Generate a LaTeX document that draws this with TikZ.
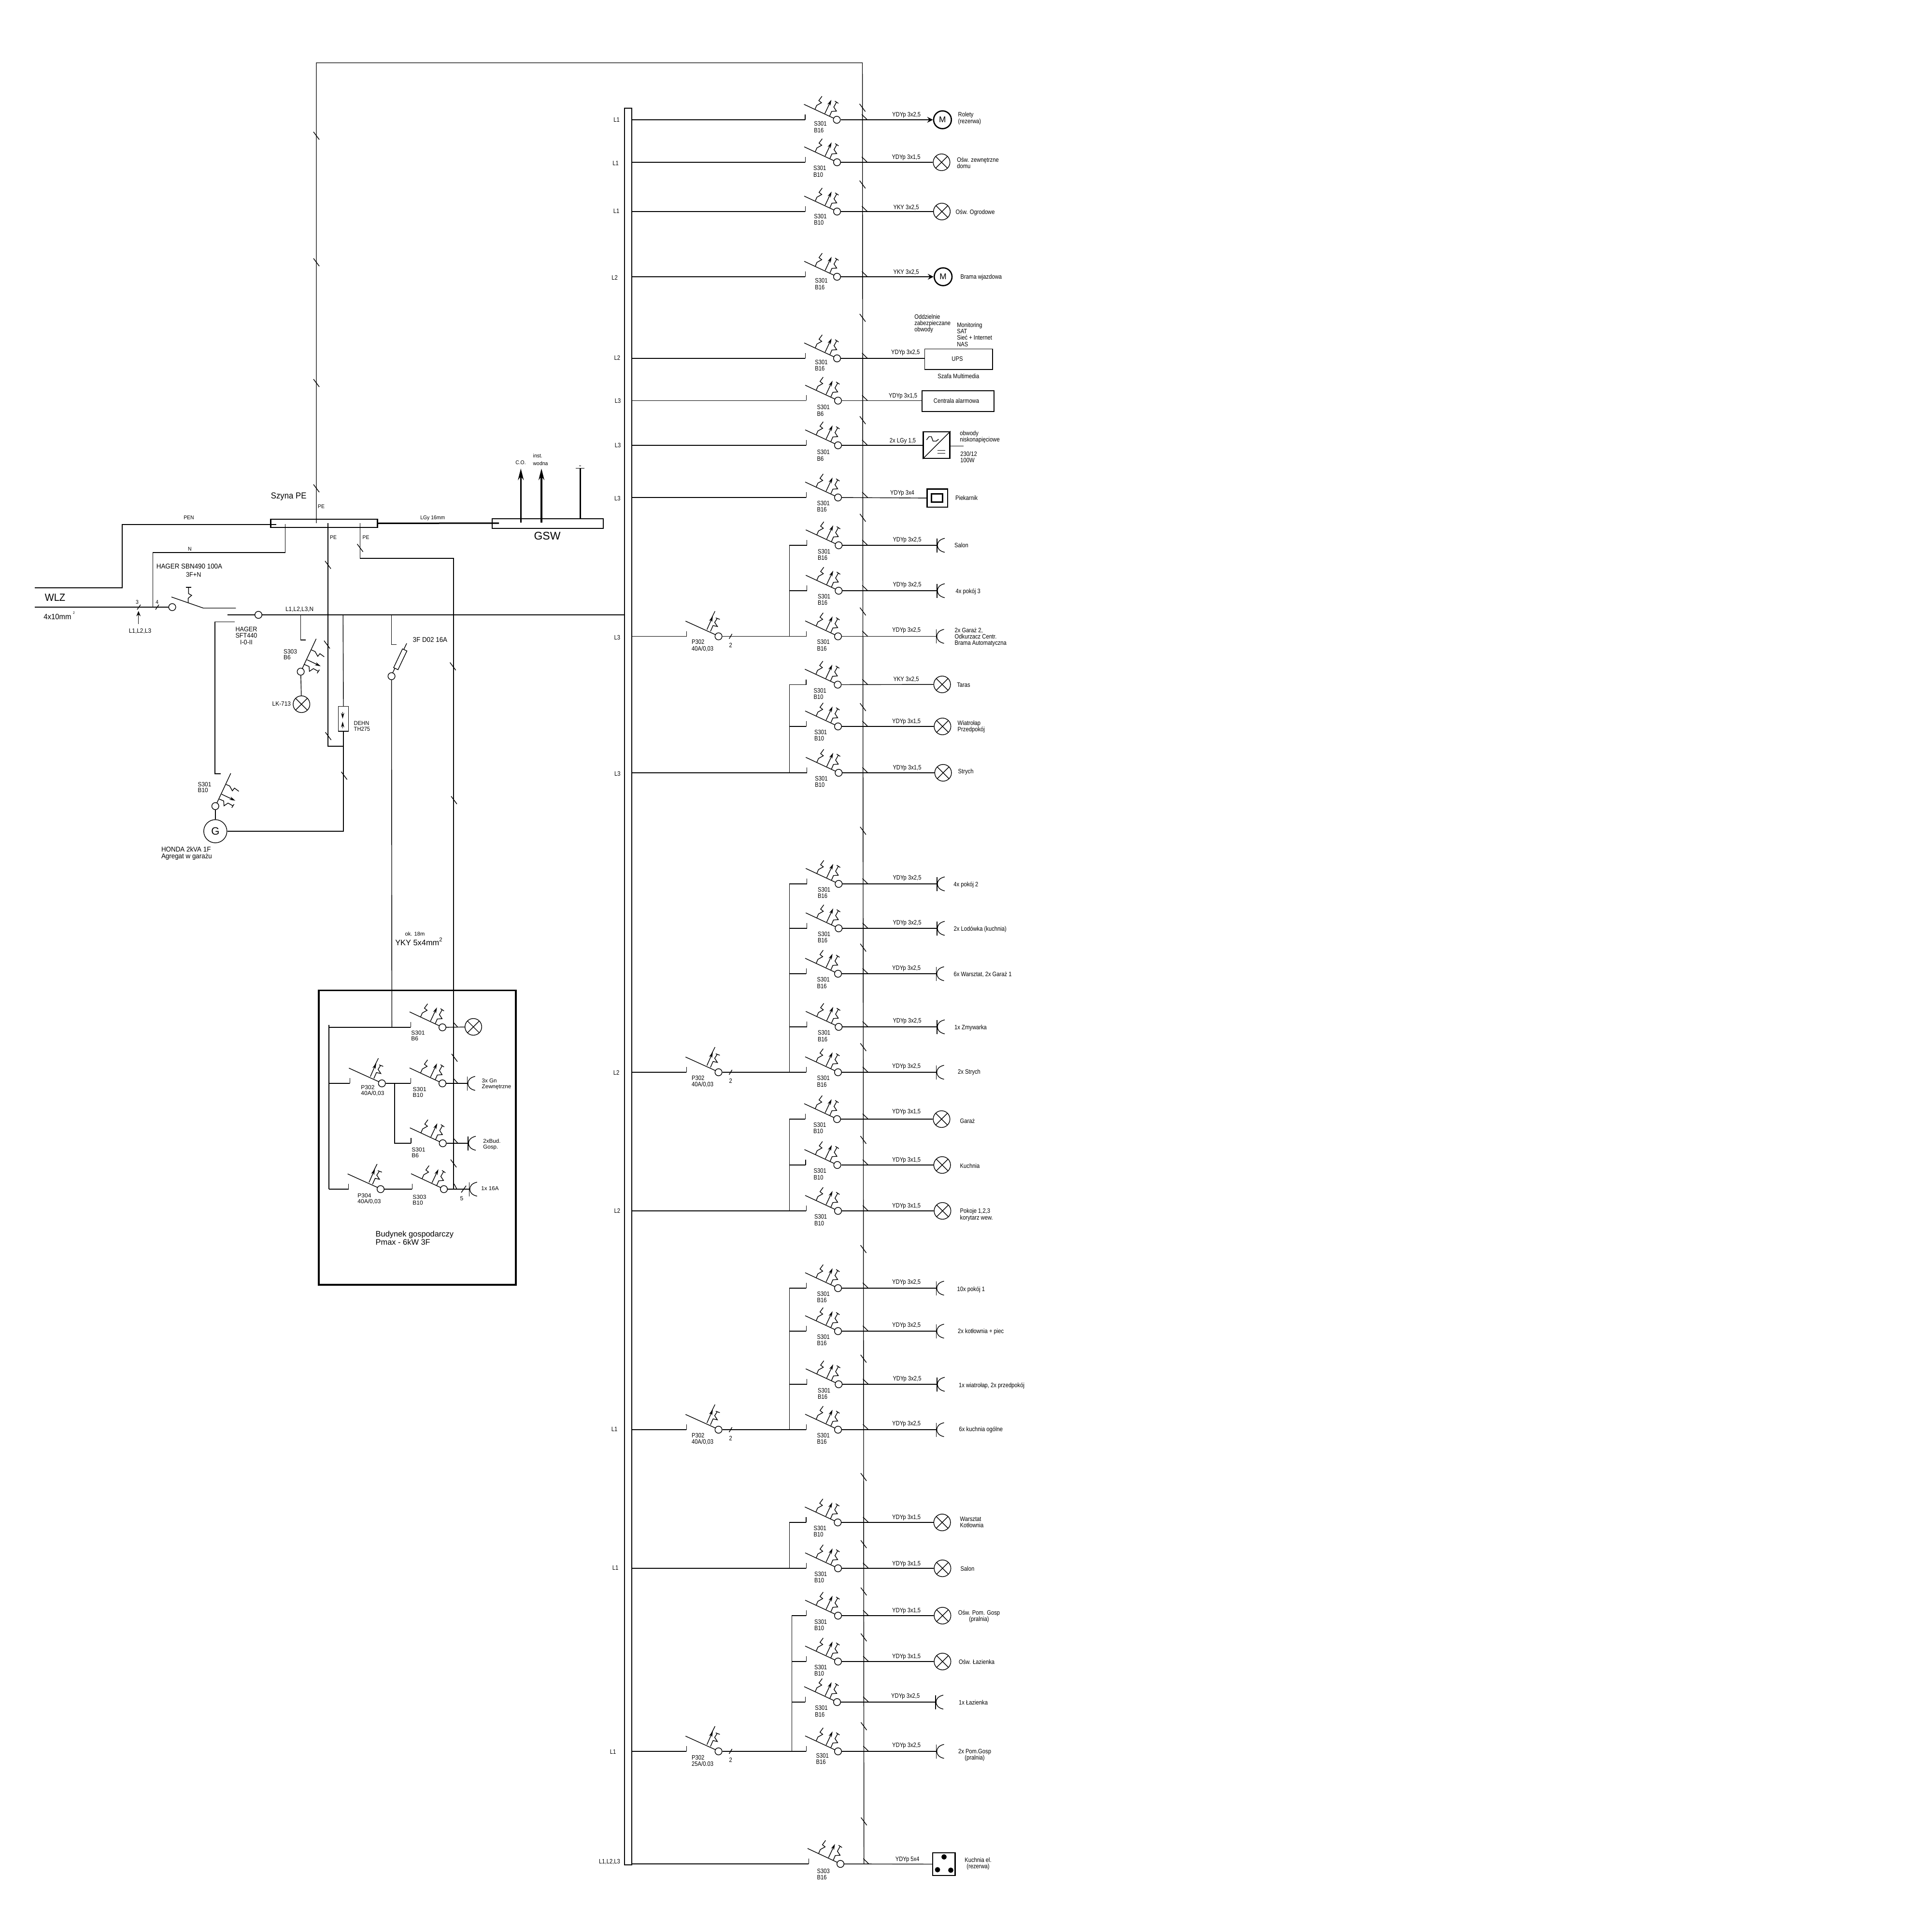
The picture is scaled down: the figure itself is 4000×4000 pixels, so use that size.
\documentclass[tikz,border=0pt]{standalone}
\usepackage{fontspec}
\setmainfont[FakeStretch=0.85]{Liberation Sans}
\newfontfamily\lewyfont[FakeStretch=0.93]{Liberation Sans}
\newfontfamily\szerokifont{Liberation Sans}
\usetikzlibrary{arrows.meta}
\newcommand{\rozm}[1]{\fontsize{#1}{#1}\selectfont}
\tikzset{
    opis/.style={inner sep=0pt,anchor=west,align=left,font=\rozm{3.3}},
    kabel/.style={inner sep=0pt,font=\rozm{3.3}},
    lewy/.style={inner sep=0pt,align=left,font=\lewyfont\rozm{3.4}},
    maly/.style={inner sep=0pt,align=left,font=\lewyfont\rozm{2.8}},
    bud/.style={inner sep=0pt,anchor=west,align=left,font=\szerokifont\rozm{2.9}},
    styk/.style={circle,draw,fill=white,inner sep=0pt,minimum size=3.65pt},
    lampa/.style={circle,draw,inner sep=0pt,minimum size=8.65pt,path picture={
        \draw (path picture bounding box.north west) -- (path picture bounding box.south east);
        \draw (path picture bounding box.north east) -- (path picture bounding box.south west);}},
    silnik/.style={circle,draw,line width=0.65pt,inner sep=0pt,minimum size=9.2pt,font=\szerokifont\rozm{4.3}},
    grot/.style={-{Stealth[length=3pt,width=1.7pt]}},
    duzygrot/.style={line width=0.85pt,-{Stealth[length=6pt,width=3pt]}},
    pics/wyl/.style={code={
        \draw (-68,-32) -- (-6,-3);
        \draw (-45,-22) -- (-41.7,-29.7) -- (-31.7,-35.3) -- (-37.3,-39.7) -- (-30.7,-48.7);
        \draw[grot] (-24.7,-13) -- (-11.3,-41.3);
        \draw (-15,-7.3) -- (-10.7,-17.3) -- (-0.7,-18) -- (-6.3,-26.3) -- (-0.7,-36.3);
        \draw (-4,-38.7) -- (3.3,-34);
    }},
    pics/roznic/.style={code={
        \draw (-68.3,-31.6) -- (-6.7,-3.6);
        \draw[grot] (-24,-14) -- (-11.7,-41.8);
        \draw (-7.3,-52) -- (-16.7,-33.2);
        \draw (-16.7,-10.2) -- (-11.3,-22.4) -- (-2.3,-20.4) -- (-8,-29) -- (-3,-36.7);
        \draw (-5.7,-38.3) -- (2.7,-35.2);
    }},
    pics/kreska/.style={code={\draw (-6,-8) -- (6,8);}},
    pics/gniazdo/.style={code={
        \draw (0,-14.5) -- (0,14.5);
        \draw (16,-14.5) .. controls (5,-12) and (1,-6) .. (1,0) .. controls (1,6) and (5,12) .. (16,14.5);
    }},
}
% wylacznik: nr, y, x styku, x opisu, dy opisu, opis
\newcommand{\wyl}[6]{
    \coordinate (k#1) at (#3-65.6,#2);
    \draw (k#1) -- ++(0,-11);
    \node[styk] (c#1) at (#3,#2) {};
    \pic at (c#1) {wyl};
    \node[opis] (o#1) at (#4,#2+#5) {#6};
}
% obwod w rozdzielnicy: jak wyzej + kabel, x kabla, dy kabla
\newcommand{\obwod}[9]{
    \wyl{#1}{#2}{#3}{#4}{#5}{#6}
    \pgfmathsetmacro\vx{1785.5+(#2-130)*0.00086}
    \draw (\vx-1.3,#2-11) -- (\vx+10,#2);
    \node[kabel] (p#1) at (#8,#2+#9) {#7};
}
\newcommand{\roznic}[6]{
    \coordinate (k#1) at (#3-66.3,#2);
    \draw (k#1) -- ++(0,-11);
    \node[styk] (c#1) at (#3,#2) {};
    \pic at (c#1) {roznic};
    \node[opis] (o#1) at (#4,#2+#5) {#6};
}
\newcommand{\lamp}[3]{
    \node[lampa] (z#1) at (#2,#3) {};
    \draw (c#1) -- (z#1);
}
\newcommand{\gnia}[3]{
    \coordinate (z#1) at (#2,#3);
    \pic at (z#1) {gniazdo};
    \draw (c#1) -- (z#1);
}
\newcommand{\zbus}[1]{\draw (k#1 -| bus.east) -- (k#1);}
\begin{document}
\begin{tikzpicture}[x=0.25pt,y=-0.25pt,line width=0.35pt]
    \useasboundingbox (0,0) rectangle (4000,4000);
    % szyna rozdzielcza
    \node[draw,line width=0.5pt,inner sep=0pt,minimum width=3.97pt,minimum height=909.25pt] (bus) at (1300.5,2042.5) {};
    % przewod PE
    \coordinate (pea) at (655,1083);
    \coordinate (peb) at (655,130);
    \coordinate (pec) at (1785.5,130);
    \coordinate (ped) at (1788.7,3859);
    \draw (pea) -- (peb) -- (pec) -- (ped);
    \foreach \y in {223,382,658,870,1072,1266,1464,1720,1962,2168,2360,2586,2813,3058,3197,3295,3390,3574,3771}{
        \pgfmathsetmacro\vx{1785.5+(\y-130)*0.00086}
        \pic at (\vx,\y) {kreska};
    }
    \foreach \y in {281,543,793,1011}{\pic at (655,\y) {kreska};}
    % obwody
    \obwod{1}{248}{1732.5}{1684.7}{15}{S301\\B16}{YDYp 3x2,5}{1876.7}{-10}
    \obwod{2}{336}{1733}{1683.4}{19}{S301\\B10}{YDYp 3x1,5}{1876}{-10}
    \obwod{3}{438}{1733}{1684.7}{16.5}{S301\\B10}{YKY 3x2,5}{1876}{-8}
    \obwod{4}{573}{1733}{1686.6}{15}{S301\\B16}{YKY 3x2,5}{1876}{-9}
    \obwod{5}{742}{1733}{1686.6}{14.5}{S301\\B16}{YDYp 3x2,5}{1874.7}{-11.5}
    \obwod{6}{829.5}{1735}{1691}{20.5}{S301\\B6}{YDYp 3x1,5}{1869.6}{-9}
    \obwod{7}{922}{1735}{1691}{21}{S301\\B6}{2x LGy 1,5}{1869}{-9}
    \obwod{8}{1030}{1735}{1691}{18.7}{S301\\B16}{YDYp 3x4}{1868}{-9}
    \obwod{9}{1129}{1736.3}{1692.3}{19.3}{S301\\B16}{YDYp 3x2,5}{1878}{-11}
    \obwod{10}{1223}{1736.3}{1692.3}{18.5}{S301\\B16}{YDYp 3x2,5}{1878}{-12}
    \obwod{11}{1317.5}{1735}{1691}{18.5}{S301\\B16}{YDYp 3x2,5}{1876.7}{-12}
    \obwod{12}{1417.5}{1734.4}{1684}{19.3}{S301\\B10}{YKY 3x2,5}{1876}{-11}
    \obwod{13}{1504}{1735}{1685.3}{18.5}{S301\\B10}{YDYp 3x1,5}{1876.7}{-10}
    \obwod{14}{1600}{1736.3}{1686.6}{18.5}{S301\\B10}{YDYp 3x1,5}{1878}{-10}
    \obwod{15}{1830}{1736.3}{1692.3}{18.5}{S301\\B16}{YDYp 3x2,5}{1878}{-12}
    \obwod{16}{1922}{1736.3}{1692.3}{18.5}{S301\\B16}{YDYp 3x2,5}{1878}{-11}
    \obwod{17}{2016}{1735}{1691}{19}{S301\\B16}{YDYp 3x2,5}{1876.7}{-11}
    \obwod{18}{2126}{1736.3}{1692.3}{19}{S301\\B16}{YDYp 3x2,5}{1878}{-11.5}
    \obwod{19}{2220}{1735}{1691}{19}{S301\\B16}{YDYp 3x2,5}{1876.7}{-11.5}
    \obwod{20}{2317}{1733}{1683.4}{18.5}{S301\\B10}{YDYp 3x1,5}{1876.7}{-15}
    \obwod{21}{2412}{1733.5}{1684}{19}{S301\\B10}{YDYp 3x1,5}{1876.7}{-9.5}
    \obwod{22}{2507}{1735}{1685.3}{19}{S301\\B10}{YDYp 3x1,5}{1876.7}{-9.8}
    \obwod{23}{2667}{1735}{1691}{18.5}{S301\\B16}{YDYp 3x2,5}{1876.7}{-11.6}
    \obwod{24}{2756}{1735}{1691}{18.5}{S301\\B16}{YDYp 3x2,5}{1876.7}{-11.7}
    \obwod{25}{2866}{1736.3}{1692.3}{19.3}{S301\\B16}{YDYp 3x2,5}{1878}{-11.2}
    \obwod{26}{2960}{1735}{1691}{18.5}{S301\\B16}{YDYp 3x2,5}{1876.7}{-11.7}
    \obwod{27}{3152}{1734.4}{1684}{18.5}{S301\\B10}{YDYp 3x1,5}{1876.7}{-9.7}
    \obwod{28}{3247}{1735}{1685.3}{18.5}{S301\\B10}{YDYp 3x1,5}{1876.7}{-9.2}
    \obwod{29}{3345}{1735}{1685.3}{19.3}{S301\\B10}{YDYp 3x1,5}{1876.7}{-9.7}
    \obwod{30}{3440}{1735}{1685.3}{18.7}{S301\\B10}{YDYp 3x1,5}{1876.7}{-9.6}
    \obwod{31}{3524}{1733}{1686.6}{19}{S301\\B16}{YDYp 3x2,5}{1874.7}{-11.5}
    \obwod{32}{3626}{1735}{1689}{15.3}{S301\\B16}{YDYp 3x2,5}{1876.7}{-11.5}
    \obwod{33}{3859}{1740}{1691}{21.8}{S303\\B16}{YDYp 5x4}{1878.6}{-9.2}
    % zasilanie wprost z szyny
    \foreach \n in {1,...,8,14,22,28,33}{\zbus{\n}}
    % roznicowki
    \roznic{a}{1317.5}{1487.6}{1431.5}{19.3}{P302\\40A/0,03}
    \roznic{b}{2220}{1487.6}{1431.5}{19.3}{P302\\40A/0,03}
    \roznic{c}{2960}{1487.6}{1431.5}{19.3}{P302\\40A/0,03}
    \roznic{d}{3626}{1487.6}{1431.5}{19.3}{P302\\25A/0.03}
    \foreach \n/\m in {a/11,b/19,c/26,d/32}{
        \zbus{\n}
        \draw (c\n) -- (k\m);
        \draw (c\n) ++(22,5) -- ++(6,-10);
        \node[kabel] (d\n) at ([xshift=6.25pt,yshift=-4.5pt]c\n) {2};
    }
    % grupy
    \coordinate (ga) at (1634.3,0);
    \coordinate (gb) at (1639.4,0);
    \draw (k9 -| ga) -- (k11 -| ga);
    \draw (k9 -| ga) -- (k9);
    \draw (k10 -| ga) -- (k10);
    \draw (k12 -| ga) -- (k14 -| ga);
    \draw (k12 -| ga) -- (k12);
    \draw (k13 -| ga) -- (k13);
    \draw (k15 -| ga) -- (k19 -| ga);
    \foreach \n in {15,...,18}{\draw (k\n -| ga) -- (k\n);}
    \draw (k20 -| ga) -- (k22 -| ga);
    \draw (k20 -| ga) -- (k20);
    \draw (k21 -| ga) -- (k21);
    \draw (k23 -| ga) -- (k26 -| ga);
    \foreach \n in {23,24,25}{\draw (k\n -| ga) -- (k\n);}
    \draw (k27 -| ga) -- (k28 -| ga);
    \draw (k27 -| ga) -- (k27);
    \draw (k29 -| gb) -- (k32 -| gb);
    \foreach \n in {29,30,31}{\draw (k\n -| gb) -- (k\n);}
    % oznaczenia faz
    \foreach \t/\x/\y in {L1/1276.5/248,L1/1274.6/337.6,L1/1276/437,L2/1272.7/575,L2/1277.8/741,L3/1279/829.5,L3/1279/922,L3/1278.4/1032,L3/1277.8/1320,L3/1278.4/1602,L2/1276/2221,L2/1277.8/2507,L1/1272/2959,L1/1274/3246,L1/1269/3627}{
        \node[kabel] (f\x) at (\x,\y) {\t};
    }
    \node[kabel] (fall) at (1262,3855) {L1,L2,L3};
    % odbiorniki
    \node[silnik] (z1) at (1951.3,248) {M};
    \draw[-stealth] (c1) -- (z1);
    \node[opis] (n1) at (1983,245) {Rolety\\(rezerwa)};
    \lamp{2}{1949.4}{336}
    \node[opis] (n2) at (1980.6,337) {Ośw. zewnętrzne\\domu};
    \lamp{3}{1950}{438}
    \node[opis] (n3) at (1978,440) {Ośw. Ogrodowe};
    \node[silnik] (z4) at (1952.6,573) {M};
    \draw[-stealth] (c4) -- (z4);
    \node[opis] (n4) at (1988,574) {Brama wjazdowa};
    \node[draw,inner sep=0pt,minimum width=35.2pt,minimum height=10.7pt] (ups) at (1984.7,743.7) {};
    \node[kabel] (upst) at (1982,743) {UPS};
    \draw (c5) -- (ups.west |- c5);
    \node[opis] (n5a) at (1892.6,670) {Oddzielnie\\zabezpieczane\\obwody};
    \node[opis] (n5b) at (1980.6,692.5) {Monitoring\\SAT\\Sieć + Internet\\NAS};
    \node[kabel] (n5c) at (1984.4,778.7) {Szafa Multimedia};
    \node[draw,line width=0.55pt,inner sep=0pt,minimum width=37.1pt,minimum height=10.75pt] (alarm) at (1983.5,830.5) {};
    \node[kabel] (alarmt) at (1980,830) {Centrala alarmowa};
    \draw (c6) -- (alarm.west |- c6);
    \node[draw,line width=0.65pt,inner sep=0pt,minimum width=13.75pt,minimum height=13.75pt] (zas) at (1939.2,921.5) {};
    \draw (c7) -- (zas.west |- c7);
    \draw (zas.south west) -- (zas.north east);
    \draw[line join=round] (1918.3,910.7) -- (1923.3,904) -- (1928.3,904) -- (1931.7,913.3) -- (1938.3,913.3) -- (1943.3,909.3);
    \draw (1940.7,932.7) -- (1956.7,932.7);
    \draw (1940.7,938.3) -- (1956.7,938.3);
    \coordinate (zasw) at (1995,923.7);
    \draw (zas.east |- zasw) -- (zasw);
    \node[opis] (n7a) at (1986.7,904.6) {obwody\\niskonapięciowe};
    \node[opis] (n7b) at (1987.7,946) {230/12\\100W};
    \node[draw,line width=0.65pt,inner sep=0pt,minimum width=10.7pt,minimum height=9.3pt] (piek) at (1940.6,1031.3) {};
    \node[draw,line width=0.65pt,inner sep=0pt,minimum width=5.85pt,minimum height=4.25pt] (piekw) at (1940,1030.8) {};
    \draw (c8) -- (piek);
    \node[opis] (n8) at (1977.3,1030.7) {Piekarnik};
    \gnia{9}{1939.8}{1129}
    \node[opis] (n9) at (1975.5,1129) {Salon};
    \gnia{10}{1939.8}{1223}
    \node[opis] (n10) at (1978,1225) {4x pokój 3};
    \gnia{11}{1938.5}{1317.5}
    \node[opis] (n11) at (1976,1319) {2x Garaż 2,\\Odkurzacz Centr.\\Brama Automatyczna};
    \lamp{12}{1950.6}{1417}
    \node[opis] (n12) at (1980.6,1418) {Taras};
    \lamp{13}{1951.3}{1504}
    \node[opis] (n13) at (1982,1504.5) {Wiatrołap\\Przedpokój};
    \lamp{14}{1952.6}{1600}
    \node[opis] (n14) at (1983,1598.5) {Strych};
    \gnia{15}{1939.8}{1830}
    \node[opis] (n15) at (1973.6,1832) {4x pokój 2};
    \gnia{16}{1939.8}{1922}
    \node[opis] (n16) at (1974,1924) {2x Lodówka (kuchnia)};
    \gnia{17}{1938.5}{2016}
    \node[opis] (n17) at (1974,2018) {6x Warsztat, 2x Garaż 1};
    \gnia{18}{1939.8}{2126}
    \node[opis] (n18) at (1975.5,2128) {1x Zmywarka};
    \gnia{19}{1938.5}{2220}
    \node[opis] (n19) at (1982.5,2219.6) {2x Strych};
    \lamp{20}{1949.4}{2317}
    \node[opis] (n20) at (1987,2320.5) {Garaż};
    \lamp{21}{1950.6}{2412}
    \node[opis] (n21) at (1987,2414) {Kuchnia};
    \lamp{22}{1951.3}{2507}
    \node[opis] (n22) at (1987,2515) {Pokoje 1,2,3\\korytarz wew.};
    \gnia{23}{1938.5}{2667}
    \node[opis] (n23) at (1981,2670) {10x pokój 1};
    \gnia{24}{1938.5}{2756}
    \node[opis] (n24) at (1982.5,2757) {2x kotłownia + piec};
    \gnia{25}{1939.8}{2866}
    \node[opis] (n25) at (1984.4,2869) {1x wiatrołap, 2x przedpokój};
    \gnia{26}{1938.5}{2960}
    \node[opis] (n26) at (1985,2960) {6x kuchnia ogólne};
    \lamp{27}{1950.6}{3152}
    \node[opis] (n27) at (1987,3151.5) {Warsztat\\Kotłownia};
    \lamp{28}{1951.3}{3247}
    \node[opis] (n28) at (1988,3247.5) {Salon};
    \lamp{29}{1951.3}{3345}
    \node[opis,anchor=center,align=center] (n29) at (2027,3346.5) {Ośw. Pom. Gosp\\(pralnia)};
    \lamp{30}{1951.3}{3440}
    \node[opis] (n30) at (1984.4,3441) {Ośw. Łazienka};
    \gnia{31}{1937}{3524}
    \node[opis] (n31) at (1984.4,3525) {1x Łazienka};
    \gnia{32}{1938.5}{3626}
    \node[opis,anchor=center,align=center] (n32) at (2018,3633.5) {2x Pom.Gosp\\(pralnia)};
    \node[draw,line width=0.55pt,inner sep=0pt,minimum width=11.6pt,minimum height=11.75pt] (kuch) at (1954.2,3859.5) {};
    \draw (c33) -- (kuch);
    \foreach \x/\y in {1954.5/3844.5,1941/3871,1968.5/3872}{\fill (\x,\y) circle[radius=5.5];}
    \node[opis,anchor=center,align=center] (n33) at (2025,3858.5) {Kuchnia el.\\(rezerwa)};
    % szyna PE i GSW
    \node[draw,line width=0.7pt,inner sep=0pt,minimum width=55.25pt,minimum height=4.25pt] (pe) at (671.2,1083.5) {};
    \node[lewy,font=\lewyfont\rozm{4.5}] (pet) at (597.7,1028) {Szyna PE};
    \node[maly] (pe1) at (665,1049) {PE};
    \node[maly] (pe2) at (690,1112.5) {PE};
    \node[maly] (pe3) at (757.6,1112.5) {PE};
    \node[draw,line width=0.55pt,inner sep=0pt,minimum width=57.5pt,minimum height=5pt] (gsw) at (1134,1084) {};
    \node[inner sep=0pt,font=\szerokifont\rozm{5.75}] (gswt) at (1133,1110) {GSW};
    \coordinate (lgy) at (1033,1083);
    \draw[line width=0.75pt] (pe.east) -- (lgy);
    \node[maly] (lgyt) at (895.8,1073) {LGy 16mm};
    \coordinate (co1) at (1078.3,1081.7);
    \coordinate (co2) at (1078.3,970);
    \coordinate (wo1) at (1121,1081.7);
    \coordinate (wo2) at (1121,970);
    \coordinate (zi1) at (1201.3,1075);
    \coordinate (zi2) at (1201.3,969.3);
    \draw[duzygrot] (co1) -- (co2);
    \draw[duzygrot] (wo1) -- (wo2);
    \draw[line width=0.85pt] (zi1) -- (zi2);
    \draw (zi2) ++(-9,0) -- ++(18,0);
    \draw (zi2) ++(-2,-5) -- ++(4,0);
    \node[maly] (cot) at (1078,957.7) {C.O.};
    \node[maly,anchor=west] (wot) at (1103,951.5) {inst.\\[1pt]wodna};
    % wejscie WLZ
    \coordinate (wlz) at (72,1257);
    \coordinate (pen) at (72,1217);
    \node[styk] (c0) at (356.6,1257) {};
    \draw (wlz) -- (c0);
    \draw (pen) -- (253,1217) -- (253,1086) -- (572,1086);
    \node[maly] (pent) at (391,1072) {PEN};
    \draw (590.5,1085) -- (590.5,1144) -- (316.4,1144) -- (316.4,1257);
    \node[maly] (nt) at (392.8,1137) {N};
    \draw (284,1262) -- (291,1252);
    \draw (322,1262) -- (329,1252);
    \node[maly] (n3f) at (284,1247) {3};
    \node[maly] (n4f) at (325.3,1247) {4};
    \coordinate (str1) at (286.7,1292);
    \coordinate (str2) at (286.7,1265);
    \draw[-{Stealth[length=2.7pt,width=2.2pt]}] (str1) -- (str2);
    \node[lewy,font=\lewyfont\rozm{3.2}] (l123) at (290,1307) {L1,L2,L3};
    \node[inner sep=0pt,font=\lewyfont\rozm{5.4}] (wlzt) at (114,1237) {WLZ};
    \node[inner sep=0pt,font=\lewyfont\rozm{4}] (wlzd) at (119,1277) {4x10mm};
    \node[inner sep=0pt,font=\lewyfont\rozm{1.8}] (wlzk) at (153,1269) {2};
    \node[lewy,font=\lewyfont\rozm{3.6}] (sbn1) at (392,1173) {HAGER SBN490 100A};
    \node[lewy] (sbn2) at (400.8,1190) {3F+N};
    \coordinate (sb1) at (355,1236);
    \coordinate (sb2) at (421,1259);
    \coordinate (sb3) at (488.4,1259);
    \draw (sb1) -- (sb2) -- (sb3);
    \draw (384.7,1216) -- (396,1216);
    \draw (390.4,1216) -- (390.4,1229) -- (396.8,1232.6) -- (389.6,1238.7) -- (389.6,1248);
    \coordinate (ps1) at (470.7,1273);
    \node[styk] (cm) at (535,1273) {};
    \draw (ps1) -- (cm);
    \draw (cm) -- (cm -| bus.west);
    \node[lewy,font=\lewyfont\rozm{3.2}] (gl) at (620.2,1262) {L1,L2,L3,N};
    \node[lewy,align=center] (sft) at (510,1316) {HAGER\\SFT440\\I-0-II};
    % agregat
    \coordinate (ag1) at (486,1287.5);
    \coordinate (ag2) at (445,1287.5);
    \coordinate (kg) at (457,1602);
    \draw (ag1) -- (ag2) -- (ag2 |- kg) -- (kg);
    \node[styk] (cg) at (445.8,1669) {};
    \pic[rotate=-90] at (cg) {wyl};
    \node[circle,draw,inner sep=0pt,minimum size=12pt,font=\szerokifont\rozm{5.5}] (gen) at (445.8,1721) {G};
    \draw (cg) -- (gen);
    \node[lewy,anchor=west,font=\lewyfont\rozm{3.2}] (ot) at (408.9,1630) {S301\\B10};
    \node[lewy,anchor=west,font=\lewyfont\rozm{3.6}] (hon) at (333.3,1767) {HONDA 2kVA 1F\\Agregat w garażu};
    % lampka LK-713
    \coordinate (ks) at (633,1325);
    \draw (622.6,1273) -- (622.6,1325) -- (ks);
    \node[styk] (cs) at (622.6,1390.6) {};
    \pic[rotate=-90] at (cs) {wyl};
    \node[lampa] (zs) at (624.2,1458) {};
    \draw (cs) -- (zs);
    \node[lewy,anchor=west,font=\lewyfont\rozm{3.2}] (os) at (586.4,1355) {S303\\B6};
    \node[lewy,anchor=west,font=\lewyfont\rozm{3.2}] (lk) at (563,1457.5) {LK-713};
    % ogranicznik
    \coordinate (pem) at (678.9,1083);
    \coordinate (pen2) at (711,1545);
    \node[draw,inner sep=0pt,minimum width=5.25pt,minimum height=12.9pt] (deh) at (711,1488.3) {};
    \draw (710.2,1273) -- (deh.north);
    \draw (deh.south) -- (pen2);
    \draw (pem) -- (678.9,1545) -- (pen2);
    \draw (pen2) -- (711,1721) -- (gen.east);
    \draw[-{Stealth[length=3pt,width=1.7pt]}] (709.4,1474) -- (709.4,1488);
    \draw[-{Stealth[length=3pt,width=1.7pt]}] (709.4,1508) -- (709.4,1494);
    \node[lewy,anchor=west,font=\lewyfont\rozm{3}] (dt) at (732,1503) {DEHN\\TH275};
    \foreach \x/\y in {679/1169.5,677/1334.6,679.6/1524,712.6/1606,745.6/1134.4,937.6/1379.6,940/1656.6,941/2190,939/2408.7}{\pic at (\x,\y) {kreska};}
    % budynek gospodarczy
    \node[draw,line width=0.85pt,inner sep=0pt,minimum width=102pt,minimum height=152.4pt] (dom) at (864,2355.3) {};
    \coordinate (k3f) at (821,1334.6);
    \draw (810.6,1273) -- (810.6,1334.6) -- (k3f);
    \node[styk] (c3f) at (810.6,1400) {};
    \coordinate (bl3f) at (842,1332);
    \draw (bl3f) -- (813,1393);
    \node[draw,fill=white,rotate=64.6,inner sep=0pt,minimum width=10.75pt,minimum height=2.5pt] (fuse) at (828.7,1365) {};
    \node[lewy,anchor=west,font=\lewyfont\rozm{3.6}] (t3f) at (854,1325) {3F D02 16A};
    \coordinate (wb) at (811.3,2127);
    \draw (c3f) -- (wb);
    \coordinate (pr1) at (745.6,1083);
    \coordinate (pr2) at (939,2462);
    \draw (pr1) -- (745.6,1156) -- (939,1156) -- (pr2);
    \node[inner sep=0pt,font=\szerokifont\rozm{2.8}] (ok) at (859,1933.7) {ok. 18m};
    \node[inner sep=0pt,font=\szerokifont\rozm{4.1}] (yky) at (868,1950) {YKY 5x4mm\textsuperscript{2}};
    \tikzset{opis/.style={inner sep=0pt,anchor=west,align=left,font=\szerokifont\rozm{3}}}
    \wyl{b1}{2127}{916}{850.7}{17.5}{S301\\B6}
    \wyl{b2}{2243}{916}{854}{18.5}{S301\\B10}
    \wyl{b3}{2367}{916.7}{851.7}{19}{S301\\B6}
    \wyl{b4}{2462}{919}{853.7}{22}{S303\\B10}
    \roznic{b5}{2243}{790.7}{746.7}{15.5}{P302\\40A/0,03}
    \roznic{b6}{2462}{788}{739.7}{20.5}{P304\\40A/0,03}
    \coordinate (vl) at (681,2122);
    \draw (vl) -- (vl |- kb6);
    \draw (vl |- kb1) -- (kb1);
    \draw (vl |- kb5) -- (kb5);
    \draw (vl |- kb6) -- (kb6);
    \draw (cb5) -- (kb2);
    \draw (cb6) -- (kb4);
    \draw (817,2243) -- (817,2367) -- (kb3);
    \lamp{b1}{980}{2126}
    \gnia{b2}{967.7}{2243}
    \gnia{b3}{969}{2367}
    \gnia{b4}{971.7}{2462}
    \draw (939,2117) -- (948,2127);
    \draw (939,2233) -- (948,2243);
    \draw (939,2357) -- (948,2367);
    \draw (940,2451) -- (946,2462);
    \draw (955,2469) -- (965,2455);
    \node[bud,font=\szerokifont\rozm{3}] (tb5) at (952,2481.6) {5};
    \node[bud] (tb2) at (997,2244.7) {3x Gn\\Zewnętrzne};
    \node[bud] (tb3) at (999.7,2369.5) {2xBud.\\Gosp.};
    \node[bud] (tb4) at (995.7,2460) {1x 16A};
    \node[bud,font=\szerokifont\rozm{4.1}] (tbud) at (777,2563) {Budynek gospodarczy\\Pmax - 6kW 3F};
\end{tikzpicture}
\end{document}
